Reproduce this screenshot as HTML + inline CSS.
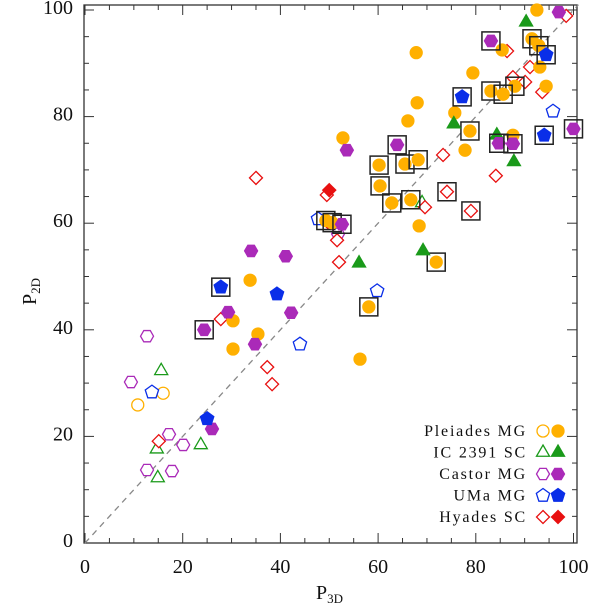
<!DOCTYPE html>
<html><head><meta charset="utf-8"><style>
body{margin:0;background:#fff}
svg text{font-family:"Liberation Serif",serif;fill:#111}
</style></head><body>
<svg id="chart" width="600" height="608" viewBox="0 0 600 608" xmlns="http://www.w3.org/2000/svg">
<g id="grid"></g><g id="marks"></g><g id="legend"></g>
</svg>
<script>
// Pleiades MG
const pleFilledX=[92.5,91.5,92.9,85.4,67.8,93.1,79.4,94.4,88,83.1,85.6,68,66.1,75.7,78.8,52.8,87.6,77.8,60.2,65.5,68.2,60.4,62.8,66.7,68.4,71.9,49.3,50.6,33.8,58.1,30.3,35.4,30.3,56.3];
const pleFilledY=[100,94.6,93.3,92.5,92,89.3,88.2,85.7,85.7,84.8,84.2,82.6,79.2,80.7,77.3,76,76.5,73.7,70.9,71.1,71.9,67,63.8,64.4,59.5,52.7,60.5,60.1,49.3,44.3,41.7,39.2,36.4,34.5];
const pleFilledBox=[0,1,1,0,0,0,0,0,1,1,1,0,0,0,1,0,0,0,1,1,1,1,1,1,0,1,1,1,0,1,0,0,0,0];
const pleOpenX=[16,10.8];
const pleOpenY=[28.1,25.9];
// IC 2391 SC
const icFilledX=[90.3,75.5,84.3,87.8,69.2,56.1];
const icFilledY=[97.7,78.6,76.5,71.5,54.8,52.5];
const icOpenX=[69,15.6,14.7,14.9,23.7];
const icOpenY=[63.8,32.3,17.6,12.2,18.4];
// Castor MG
const casFilledX=[97,83.1,100,63.9,53.6,84.7,87.6,52.6,34,41.1,29.3,24.4,34.8,42.2,26];
const casFilledY=[99.6,94.2,77.7,74.7,73.7,75,74.9,59.8,54.8,53.8,43.3,40,37.3,43.2,21.4];
const casFilledBox=[0,1,1,1,0,1,1,1,0,0,0,1,0,0,0];
const casOpenX=[51.8,12.7,9.4,17.2,20.1,12.7,17.8];
const casOpenY=[58,38.8,30.2,20.4,18.4,13.7,13.5];
// UMa MG
const umaFilledX=[94.4,77.2,94,27.8,39.3,25];
const umaFilledY=[91.6,83.7,76.5,48,46.7,23.3];
const umaFilledBox=[1,1,1,1,0,0];
const umaOpenX=[95.8,44,59.8,13.7,47.7];
const umaOpenY=[81,37.3,47.3,28.3,60.8];
// Hyades SC
const hyaFilledX=[50];
const hyaFilledY=[66.2];
const hyaOpenX=[98.5,86.4,91.1,87.6,90.1,93.6,73.3,84.1,74.1,79,69.6,49.5,51.6,52,49.7,35,27.8,37.3,38.3,15.1];
const hyaOpenY=[98.9,92.3,89.3,87.4,86.5,84.6,72.8,68.9,65.9,62.3,63,65.3,56.8,52.7,60.2,68.5,42,33,29.8,19.1];
const hyaOpenBox=[0,0,0,0,0,0,0,0,1,1,0,0,0,0,0,0,0,0,0,0];
const xTicks=[0,20,40,60,80,100];
const yTicks=[0,20,40,60,80,100];

const NS="http://www.w3.org/2000/svg";
const L=84,R=577,T=5,B=543;
const sx=v=>85+4.885*v, sy=v=>543-5.33*v;
function mk(tag,attrs,parent){const e=document.createElementNS(NS,tag);for(const k in attrs)e.setAttribute(k,attrs[k]);parent.appendChild(e);return e;}
const grid=document.getElementById('grid'),marks=document.getElementById('marks'),leg=document.getElementById('legend');

const frame=mk('rect',{x:L,y:T,width:R-L,height:B-T,fill:'none',stroke:'#333','stroke-width':1.3},grid);


for(let v=0;v<=100;v+=5){
  const big=v%20===0,len=big?10:5,x=sx(v),y=sy(v);
  mk('line',{x1:x,y1:B,x2:x,y2:B-len,stroke:'#333'},grid);
  mk('line',{x1:x,y1:T,x2:x,y2:T+len,stroke:'#333'},grid);
  mk('line',{x1:L,y1:y,x2:L+len,y2:y,stroke:'#333'},grid);
  mk('line',{x1:R,y1:y,x2:R-len,y2:y,stroke:'#333'},grid);
}
xTicks.forEach(v=>{const t=mk('text',{x:sx(v),y:573,'text-anchor':'middle','font-size':20},grid);t.textContent=v;

});
yTicks.forEach(v=>{const t=mk('text',{x:73,y:sy(v)+4,'text-anchor':'end','font-size':20},grid);t.textContent=v;

});
const xt=mk('text',{x:316,y:599,'font-size':20},grid);xt.innerHTML='P<tspan font-size="13" dy="4">3D</tspan>';


const yt=mk('text',{x:0,y:0,'font-size':20,transform:'translate(36,305) rotate(-90)'},grid);yt.innerHTML='P<tspan font-size="13" dy="4">2D</tspan>';


const diag=mk('line',{x1:sx(0),y1:sy(0),x2:sx(101),y2:sy(101),stroke:'#888','stroke-width':1.3,'stroke-dasharray':'6,5'},grid);



function shape(kind,cx,cy,color,filled,parent){
  const a={fill:filled?color:'#fff',stroke:color,'stroke-width':1.3};
  let e;
  if(kind==='circle'){a.cx=cx;a.cy=cy;a.r=6;e=mk('circle',a,parent);}
  else{
    let pts=[];
    if(kind==='tri'){const r=7.5;pts=[[cx,cy-r],[cx+r*0.87,cy+r*0.5],[cx-r*0.87,cy+r*0.5]];}
    if(kind==='hex'){const r=6.5;for(let i=0;i<6;i++){const an=Math.PI/3*i;pts.push([cx+r*Math.cos(an),cy+r*Math.sin(an)]);}}
    if(kind==='pent'){const r=7;for(let i=0;i<5;i++){const an=-Math.PI/2+2*Math.PI/5*i;pts.push([cx+r*Math.cos(an),cy+r*Math.sin(an)]);}}
    if(kind==='dia'){const r=6.5;pts=[[cx,cy-r],[cx+r,cy],[cx,cy+r],[cx-r,cy]];}
    a.points=pts.map(p=>p.join(',')).join(' ');e=mk('polygon',a,parent);
  }
  return e;
}
function series(xs,ys,box,kind,color,filled,name){
  xs.forEach((xv,i)=>{
    const cx=sx(xv),cy=sy(ys[i]);
    if(box&&box[i]){const b=mk('rect',{x:cx-9,y:cy-9,width:18,height:18,fill:'none',stroke:'#222','stroke-width':1.5},marks);
      
      }
    const e=shape(kind,cx,cy,color,filled,marks);
    
    
  });
}
const OR='#ffb000',GR='#1a9a1a',PU='#aa2ab8',BL='#0a2ee8',RD='#e81010';
series(pleOpenX,pleOpenY,null,'circle',OR,false,'pleiades-open-point');
series(icOpenX,icOpenY,null,'tri',GR,false,'ic2391-open-point');
series(casOpenX,casOpenY,null,'hex',PU,false,'castor-open-point');
series(umaOpenX,umaOpenY,null,'pent',BL,false,'uma-open-point');
series(hyaOpenX,hyaOpenY,hyaOpenBox,'dia',RD,false,'hyades-open-point');
series(pleFilledX,pleFilledY,pleFilledBox,'circle',OR,true,'pleiades-filled-point');
series(icFilledX,icFilledY,null,'tri',GR,true,'ic2391-filled-point');
series(casFilledX,casFilledY,casFilledBox,'hex',PU,true,'castor-filled-point');
series(umaFilledX,umaFilledY,umaFilledBox,'pent',BL,true,'uma-filled-point');
series(hyaFilledX,hyaFilledY,null,'dia',RD,true,'hyades-filled-point');

const legNames=['Pleiades MG','IC 2391 SC','Castor MG','UMa MG','Hyades SC'];
const legKinds=['circle','tri','hex','pent','dia'];
const legColors=[OR,GR,PU,BL,RD];
legNames.forEach((n,i)=>{
  const y=431+21.5*i;
  const t=mk('text',{x:527,y:y+5,'text-anchor':'end','font-size':16,'letter-spacing':'1.8'},leg);t.textContent=n;
  
  
  const o=shape(legKinds[i],543,y,legColors[i],false,leg);
  
  
  const f=shape(legKinds[i],558,y,legColors[i],true,leg);
  
  
});
</script>
</body></html>
